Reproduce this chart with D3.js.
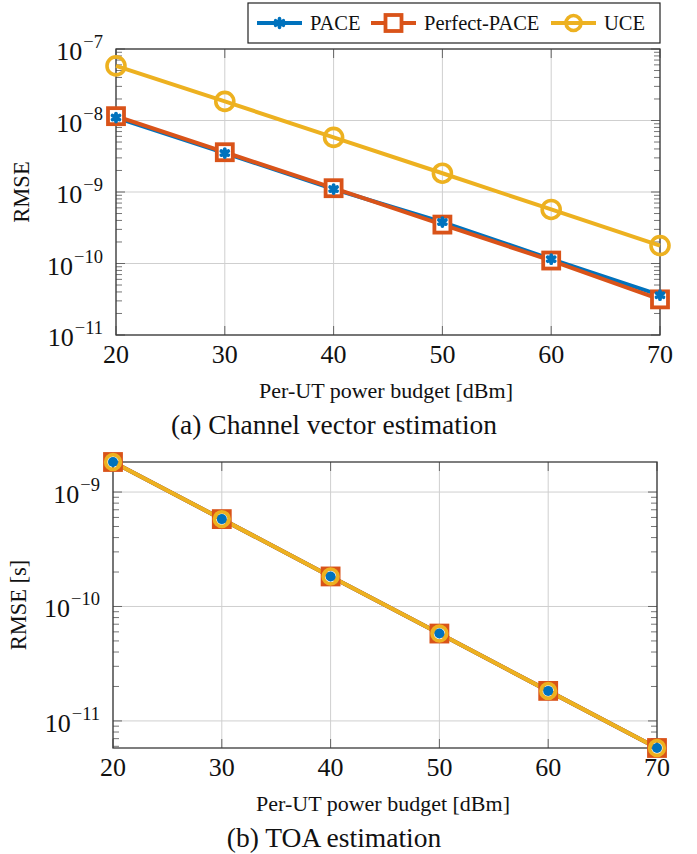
<!DOCTYPE html>
<html><head><meta charset="utf-8">
<script src="https://cdn.jsdelivr.net/npm/d3@7"></script>
<style>
body{margin:0;background:#fff}
svg{display:block}
text{font-family:"Liberation Serif","Times New Roman",Times,serif;fill:#111}
</style>
</head><body>
<svg id="c" width="697" height="854"></svg>
<script>
// ---------------- data ----------------
const powerBudget = [20, 30, 40, 50, 60, 70];
const xTickValues = [20, 30, 40, 50, 60, 70];
const seriesNames = ["PACE", "Perfect-PACE", "UCE"];
const seriesColors = ["#0072BD", "#D95319", "#EDB120"];

// (a) channel vector estimation RMSE
const chanPACE    = [1.10e-8, 3.50e-9, 1.10e-9, 3.80e-10, 1.15e-10, 3.60e-11];
const chanPerfect = [1.15e-8, 3.60e-9, 1.13e-9, 3.50e-10, 1.10e-10, 3.15e-11];
const chanUCE     = [5.80e-8, 1.85e-8, 5.80e-9, 1.83e-9, 5.70e-10, 1.78e-10];

// (b) TOA estimation RMSE [s]
const toaPACE    = [1.83e-9, 5.80e-10, 1.83e-10, 5.80e-11, 1.83e-11, 5.80e-12];
const toaPerfect = [1.83e-9, 5.80e-10, 1.83e-10, 5.80e-11, 1.83e-11, 5.80e-12];
const toaUCE     = [1.83e-9, 5.80e-10, 1.83e-10, 5.80e-11, 1.83e-11, 5.80e-12];

const yTickExpA = [-11, -10, -9, -8, -7];
const yTickExpB = [-11, -10, -9];
const xLabelText = "Per-UT power budget [dBm]";
const yLabelA = "RMSE";
const yLabelB = "RMSE [s]";
const captionA = "(a) Channel vector estimation";
const captionB = "(b) TOA estimation";

// ---------------- drawing ----------------
const svg = d3.select("#c");
const GRID = "#cfcfcf", AXIS = "#3a3a3a", TICK = "#666";

function asteriskPath(r) {
  let p = "";
  [90, 30, -30].forEach(a => {
    const t = a * Math.PI / 180, dx = r * Math.cos(t), dy = r * Math.sin(t);
    p += `M${-dx},${dy}L${dx},${-dy}`;
  });
  return p;
}

function drawPanel(cfg) {
  const g = svg.append("g");
  const x = d3.scaleLinear().domain(d3.extent(powerBudget)).range([cfg.left, cfg.right]);
  const y = d3.scaleLog().domain(cfg.domain).range([cfg.bottom, cfg.top]);
  const [d0, d1] = cfg.domain;

  // grid
  xTickValues.forEach(v => g.append("line").attr("x1", x(v)).attr("x2", x(v))
    .attr("y1", cfg.top).attr("y2", cfg.bottom).attr("stroke", GRID).attr("stroke-width", 1));
  cfg.tickExp.forEach(e => g.append("line").attr("x1", cfg.left).attr("x2", cfg.right)
    .attr("y1", y(Math.pow(10, e))).attr("y2", y(Math.pow(10, e))).attr("stroke", GRID).attr("stroke-width", 1));

  // minor ticks (left & right, inward)
  const kMin = Math.floor(Math.log10(d0)), kMax = Math.ceil(Math.log10(d1));
  for (let k = kMin; k <= kMax; k++) {
    for (let m = 2; m <= 9; m++) {
      const v = m * Math.pow(10, k);
      if (v < d0 || v > d1) continue;
      const yy = y(v);
      g.append("line").attr("x1", cfg.left).attr("x2", cfg.left + 6).attr("y1", yy).attr("y2", yy)
        .attr("stroke", TICK).attr("stroke-width", 0.9);
      g.append("line").attr("x1", cfg.right).attr("x2", cfg.right - 6).attr("y1", yy).attr("y2", yy)
        .attr("stroke", TICK).attr("stroke-width", 0.9);
    }
  }
  // major ticks
  cfg.tickExp.forEach(e => {
    const yy = y(Math.pow(10, e));
    g.append("line").attr("x1", cfg.left).attr("x2", cfg.left + 9).attr("y1", yy).attr("y2", yy).attr("stroke", TICK);
    g.append("line").attr("x1", cfg.right).attr("x2", cfg.right - 9).attr("y1", yy).attr("y2", yy).attr("stroke", TICK);
  });
  xTickValues.forEach(v => {
    g.append("line").attr("x1", x(v)).attr("x2", x(v)).attr("y1", cfg.bottom).attr("y2", cfg.bottom - 9).attr("stroke", TICK);
    g.append("line").attr("x1", x(v)).attr("x2", x(v)).attr("y1", cfg.top).attr("y2", cfg.top + 9).attr("stroke", TICK);
  });

  // frame
  g.append("rect").attr("x", cfg.left).attr("y", cfg.top).attr("width", cfg.right - cfg.left)
    .attr("height", cfg.bottom - cfg.top).attr("fill", "none").attr("stroke", AXIS).attr("stroke-width", 1.3);

  // tick labels
  cfg.tickExp.forEach(e => {
    const t = g.append("text").attr("x", cfg.left - 13).attr("y", y(Math.pow(10, e)) + 11)
      .attr("text-anchor", "end").style("font-size", "26px");
    t.append("tspan").text("10");
    t.append("tspan").attr("dx", 1).attr("dy", -12).style("font-size", "18.5px").text("\u2212" + Math.abs(e));
  });
  xTickValues.forEach(v => g.append("text").attr("x", x(v)).attr("y", cfg.bottom + 28)
    .attr("text-anchor", "middle").style("font-size", "26px").text(v));

  // axis labels + caption
  g.append("text").attr("x", (cfg.left + cfg.right) / 2 - 2).attr("y", cfg.bottom + 63)
    .attr("text-anchor", "middle").style("font-size", "22px").text(xLabelText);
  g.append("text").attr("transform", `translate(${cfg.ylabelX},${(cfg.top + cfg.bottom) / 2}) rotate(-90)`)
    .attr("text-anchor", "middle").style("font-size", "22.5px").text(cfg.ylabel);
  g.append("text").attr("x", 334).attr("y", cfg.bottom + 99)
    .attr("text-anchor", "middle").style("font-size", "27.5px").text(cfg.caption);

  // lines
  const line = d3.line().x((d, i) => x(powerBudget[i])).y(d => y(d));
  cfg.series.forEach((s, i) => g.append("path").attr("d", line(s)).attr("fill", "none")
    .attr("stroke", seriesColors[i]).attr("stroke-width", 4).attr("stroke-linejoin", "round"));

  // markers: squares, circles, then PACE on top
  cfg.series[1].forEach((v, i) => {
    const s = cfg.sq;
    g.append("rect").attr("x", x(powerBudget[i]) - s / 2).attr("y", y(v) - s / 2)
      .attr("width", s).attr("height", s).attr("fill", cfg.sqFill)
      .attr("stroke", seriesColors[1]).attr("stroke-width", 3.8);
  });
  cfg.series[2].forEach((v, i) => {
    g.append("circle").attr("cx", x(powerBudget[i])).attr("cy", y(v)).attr("r", cfg.cr)
      .attr("fill", "none").attr("stroke", seriesColors[2]).attr("stroke-width", 3.6);
  });
  cfg.series[0].forEach((v, i) => {
    if (cfg.paceDot) {
      g.append("circle").attr("cx", x(powerBudget[i])).attr("cy", y(v)).attr("r", 5)
        .attr("fill", seriesColors[0]);
    } else {
      g.append("path").attr("transform", `translate(${x(powerBudget[i])},${y(v)})`)
        .attr("d", asteriskPath(4)).attr("fill", "none").attr("stroke", seriesColors[0])
        .attr("stroke-width", 3.8).attr("stroke-linecap", "round");
    }
  });
}

drawPanel({
  left: 116, right: 660, top: 49, bottom: 335,
  domain: [Math.pow(10, d3.min(yTickExpA)), Math.pow(10, d3.max(yTickExpA))],
  tickExp: yTickExpA, series: [chanPACE, chanPerfect, chanUCE],
  ylabel: yLabelA, ylabelX: 29, caption: captionA,
  sq: 16, sqFill: "#fff", cr: 9, paceDot: false
});
const allToa = toaPACE.concat(toaPerfect, toaUCE);
drawPanel({
  left: 113, right: 657, top: 462, bottom: 748,
  domain: d3.extent(allToa),
  tickExp: yTickExpB, series: [toaPACE, toaPerfect, toaUCE],
  ylabel: yLabelB, ylabelX: 26, caption: captionB,
  sq: 16, sqFill: "none", cr: 7.4, paceDot: true
});

// legend
const lg = svg.append("g");
lg.append("rect").attr("x", 248).attr("y", 3).attr("width", 412).attr("height", 40)
  .attr("fill", "#fff").attr("stroke", "#222").attr("stroke-width", 1.2);
const legX = [257, 371, 551];
seriesNames.forEach((n, i) => {
  const x0 = legX[i], x1 = x0 + 45, cx = (x0 + x1) / 2, cy = 23;
  lg.append("line").attr("x1", x0).attr("x2", x1).attr("y1", cy).attr("y2", cy)
    .attr("stroke", seriesColors[i]).attr("stroke-width", 4);
  if (i === 0) {
    lg.append("path").attr("transform", `translate(${cx},${cy})`).attr("d", asteriskPath(4.5))
      .attr("fill", "none").attr("stroke", seriesColors[0]).attr("stroke-width", 3.6).attr("stroke-linecap", "round");
  } else if (i === 1) {
    lg.append("rect").attr("x", cx - 8).attr("y", cy - 8).attr("width", 16).attr("height", 16)
      .attr("fill", "#fff").attr("stroke", seriesColors[1]).attr("stroke-width", 3.8);
  } else {
    lg.append("circle").attr("cx", cx).attr("cy", cy).attr("r", 7.5)
      .attr("fill", "none").attr("stroke", seriesColors[2]).attr("stroke-width", 3.6);
  }
  lg.append("text").attr("x", x1 + 8).attr("y", 29.5).style("font-size", "20.5px").text(n);
});
</script>
</body></html>
